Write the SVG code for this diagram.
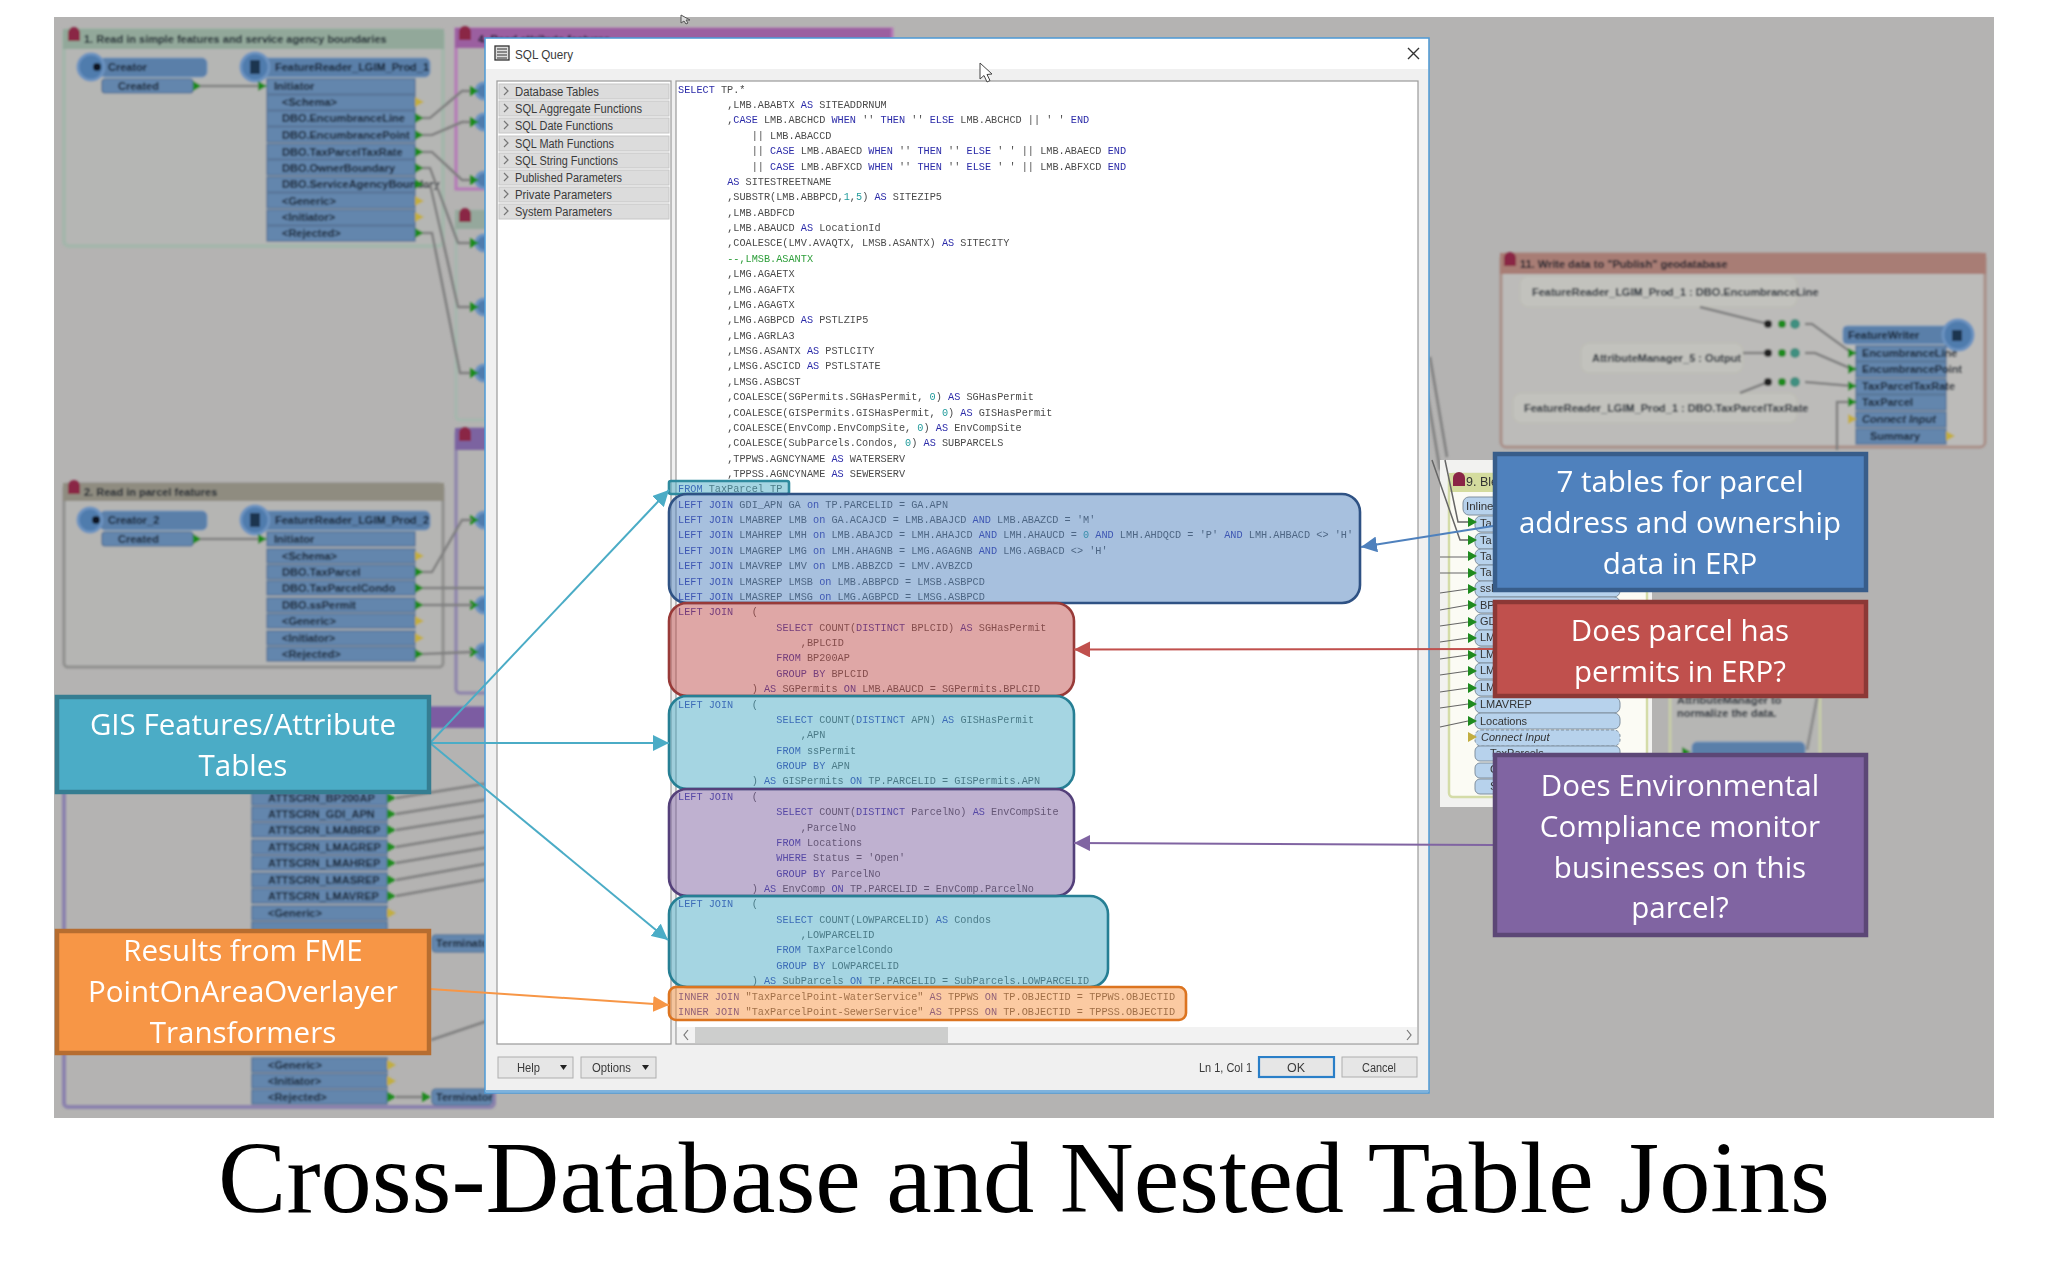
<svg xmlns="http://www.w3.org/2000/svg" width="2048" height="1280" viewBox="0 0 2048 1280">
<defs>
<filter id="blur" x="-5%" y="-5%" width="110%" height="110%"><feGaussianBlur stdDeviation="1.2"/></filter>
<filter id="soft" x="-2%" y="-2%" width="104%" height="104%"><feGaussianBlur stdDeviation="0.35"/></filter>
<polygon id="pg" points="0,-5 9,0 0,5" fill="#1f8a1f"/>
<polygon id="py" points="0,-5 9,0 0,5" fill="#c2ae40"/>
<path id="house" d="M0,8v-8a6,6 0 0 1 12,0v8z" fill="#8a2545"/>
<marker id="ah-teal" markerUnits="userSpaceOnUse" markerWidth="18" markerHeight="16" refX="16" refY="8" orient="auto"><path d="M0,0 L16,8 L0,16 Z" fill="#4BACC6"/></marker>
<marker id="ah-orange" markerUnits="userSpaceOnUse" markerWidth="18" markerHeight="16" refX="16" refY="8" orient="auto"><path d="M0,0 L16,8 L0,16 Z" fill="#F79646"/></marker>
<marker id="ah-blue" markerUnits="userSpaceOnUse" markerWidth="18" markerHeight="16" refX="16" refY="8" orient="auto"><path d="M0,0 L16,8 L0,16 Z" fill="#4F81BD"/></marker>
<marker id="ah-red" markerUnits="userSpaceOnUse" markerWidth="18" markerHeight="16" refX="16" refY="8" orient="auto"><path d="M0,0 L16,8 L0,16 Z" fill="#C0504D"/></marker>
<marker id="ah-purple" markerUnits="userSpaceOnUse" markerWidth="18" markerHeight="16" refX="16" refY="8" orient="auto"><path d="M0,0 L16,8 L0,16 Z" fill="#8064A2"/></marker>
</defs>
<style>
.bgt{font-family:"Liberation Sans",Arial,sans-serif;font-size:11px;font-weight:bold;fill:#0c1826}
.wire{fill:none;stroke:#7f7f7f;stroke-width:2.5}
.bar{fill:#5a7fa9;stroke:#6f93bb;stroke-width:1}
.port{fill:#6486ad;stroke:#4f6f94;stroke-width:1.2}
.circ{fill:#4f7bad;stroke:#6c93c0;stroke-width:3}
.ip{fill:#b7d2ec;stroke:#80909f;stroke-width:1}
.tun{fill:#c2c2bd;stroke:#bdbdb6;stroke-width:2}
.sql{font-family:"Liberation Mono","DejaVu Sans Mono",monospace;font-size:11.5px;fill:#4a4a4a}
.k{fill:#2a2aa8}.n{fill:#1f9a9a}.c{fill:#2e9e3a}
.ui{font-family:"Liberation Sans",Arial,sans-serif;font-size:12.5px;fill:#3a3a3a}
.item{fill:#dcdcdc;stroke:#c6c6c6;stroke-width:1}
.btn{fill:#e6e6e6;stroke:#aeaeae;stroke-width:1}
.chev{fill:none;stroke:#777;stroke-width:1.2}
.ov{stroke-width:2.6;fill-opacity:.5}
.cap{font-family:"Open Sans","Noto Sans",sans-serif;font-size:29.5px;fill:#fff;text-anchor:middle}
.box{stroke-width:4.5}
.lnk{fill:none;stroke-width:2}
</style>
<rect width="2048" height="1280" fill="#ffffff"/>
<rect id="backdrop" x="54" y="17" width="1940" height="1101" fill="#b4b3b2"/>
<g id="background" filter="url(#blur)">
<g id="bookmark1"><rect x="64" y="30" width="379" height="216" rx="5" fill="#b5b6b4" stroke="#a4b6ab" stroke-width="4"/><rect x="63" y="29" width="381" height="20" fill="#92a89a"/><use href="#house" x="68" y="33"/><text class="bgt" x="84" y="43">1. Read in simple features and service agency boundaries</text></g>
<g id="creator1"><rect class="bar" x="100" y="58" width="107" height="19" rx="5"/><circle class="circ" cx="91" cy="67" r="13"/><circle cx="97" cy="67" r="4" fill="#0d1520"/><rect class="port" x="102" y="79" width="91" height="14" rx="3"/><text class="bgt" x="108" y="71">Creator</text><text class="bgt" x="118" y="90">Created</text><use href="#pg" x="193" y="86"/></g>
<path class="wire" d="M200,86H262" stroke-width="4"/>
<g id="reader1"><rect class="bar" x="250" y="58" width="180" height="19" rx="5"/><circle class="circ" cx="255" cy="67" r="14"/><rect x="250" y="60" width="10" height="14" fill="#1d3550"/><text class="bgt" x="275" y="71">FeatureReader_LGIM_Prod_1</text>
<rect class="port" x="267" y="79" width="148" height="15"/><rect class="port" x="267" y="95" width="148" height="15"/><rect class="port" x="267" y="111" width="148" height="15"/><rect class="port" x="267" y="127" width="148" height="15"/><rect class="port" x="267" y="144" width="148" height="15"/><rect class="port" x="267" y="160" width="148" height="15"/><rect class="port" x="267" y="177" width="148" height="15"/><rect class="port" x="267" y="193" width="148" height="15"/><rect class="port" x="267" y="210" width="148" height="15"/><rect class="port" x="267" y="226" width="148" height="15"/>
<text class="bgt" x="274" y="90">Initiator</text><text class="bgt" x="282" y="106">&lt;Schema&gt;</text><text class="bgt" x="282" y="122">DBO.EncumbranceLine</text><text class="bgt" x="282" y="139">DBO.EncumbrancePoint</text><text class="bgt" x="282" y="156">DBO.TaxParcelTaxRate</text><text class="bgt" x="282" y="172">DBO.OwnerBoundary</text><text class="bgt" x="282" y="188">DBO.ServiceAgencyBoundary</text><text class="bgt" x="282" y="205">&lt;Generic&gt;</text><text class="bgt" x="282" y="221">&lt;Initiator&gt;</text><text class="bgt" x="282" y="237">&lt;Rejected&gt;</text>
<use href="#pg" x="258" y="86"/><use href="#py" x="415" y="102"/><use href="#pg" x="415" y="118"/><use href="#pg" x="415" y="135"/><use href="#pg" x="415" y="152"/><use href="#pg" x="415" y="168"/><use href="#pg" x="415" y="184"/><use href="#py" x="415" y="201"/><use href="#py" x="415" y="217"/><use href="#pg" x="415" y="233"/></g>
<g id="bookmark4"><rect x="456" y="29" width="436" height="160" fill="none" stroke="#b678b8" stroke-width="3"/><rect x="455" y="28" width="436" height="20" fill="#9b5fa0"/><use href="#house" x="459" y="32"/><text class="bgt" x="478" y="43">4. Read attribute features</text></g>
<g id="bookmark5"><rect x="456" y="211" width="60" height="209" rx="4" fill="none" stroke="#a5b8ad" stroke-width="3"/><rect x="455" y="210" width="60" height="19" fill="#95a89c"/><use href="#house" x="459" y="214"/></g>
<g id="bookmark6"><rect x="456" y="429" width="60" height="264" rx="4" fill="none" stroke="#8c82ab" stroke-width="3"/><rect x="455" y="428" width="60" height="22" fill="#7c64a0"/><use href="#house" x="459" y="433"/></g>
<path class="wire" d="M423,118H430L462,91H472M423,135H432L462,122H472M423,152H432L462,180H472M423,168H430L458,243H472M423,184H430L458,307H472M423,233H432L460,373H472"/>
<g id="inputs-upper"><circle class="circ" cx="484" cy="91" r="8"/><circle class="circ" cx="484" cy="122" r="8"/><circle class="circ" cx="484" cy="180" r="8"/><circle class="circ" cx="484" cy="243" r="8"/><circle class="circ" cx="484" cy="307" r="8"/><circle class="circ" cx="484" cy="373" r="8"/><circle class="circ" cx="484" cy="520" r="8"/><circle class="circ" cx="484" cy="605" r="8"/><circle class="circ" cx="484" cy="652" r="8"/><use href="#pg" x="470" y="91"/><use href="#pg" x="470" y="122"/><use href="#pg" x="470" y="180"/><use href="#pg" x="470" y="243"/><use href="#pg" x="470" y="307"/><use href="#pg" x="470" y="373"/><use href="#pg" x="470" y="520"/><use href="#pg" x="470" y="605"/><use href="#pg" x="470" y="652"/></g>
<g id="bookmark2"><rect x="64" y="484" width="379" height="183" rx="4" fill="#b5b5b3" stroke="#8f8f8d" stroke-width="3"/><rect x="63" y="483" width="381" height="18" fill="#8f8c80"/><use href="#house" x="68" y="486"/><text class="bgt" x="84" y="496">2. Read in parcel features</text></g>
<g id="creator2"><rect class="bar" x="100" y="511" width="107" height="19" rx="5"/><circle class="circ" cx="90" cy="520" r="12"/><circle cx="96" cy="520" r="4" fill="#0d1520"/><rect class="port" x="102" y="532" width="91" height="14" rx="3"/><text class="bgt" x="108" y="524">Creator_2</text><text class="bgt" x="118" y="543">Created</text><use href="#pg" x="193" y="539"/></g>
<path class="wire" d="M200,539H262"/>
<g id="reader2"><rect class="bar" x="250" y="511" width="180" height="19" rx="5"/><circle class="circ" cx="255" cy="520" r="14"/><rect x="250" y="513" width="10" height="14" fill="#1d3550"/><text class="bgt" x="275" y="524">FeatureReader_LGIM_Prod_2</text>
<rect class="port" x="267" y="532" width="148" height="14"/><rect class="port" x="267" y="549" width="148" height="14"/><rect class="port" x="267" y="565" width="148" height="14"/><rect class="port" x="267" y="581" width="148" height="14"/><rect class="port" x="267" y="598" width="148" height="14"/><rect class="port" x="267" y="614" width="148" height="14"/><rect class="port" x="267" y="631" width="148" height="14"/><rect class="port" x="267" y="647" width="148" height="14"/>
<text class="bgt" x="274" y="543">Initiator</text><text class="bgt" x="282" y="560">&lt;Schema&gt;</text><text class="bgt" x="282" y="576">DBO.TaxParcel</text><text class="bgt" x="282" y="592">DBO.TaxParcelCondo</text><text class="bgt" x="282" y="609">DBO.ssPermit</text><text class="bgt" x="282" y="625">&lt;Generic&gt;</text><text class="bgt" x="282" y="642">&lt;Initiator&gt;</text><text class="bgt" x="282" y="658">&lt;Rejected&gt;</text>
<use href="#pg" x="258" y="539"/><use href="#py" x="415" y="556"/><use href="#pg" x="415" y="572"/><use href="#pg" x="415" y="588"/><use href="#pg" x="415" y="605"/><use href="#py" x="415" y="621"/><use href="#py" x="415" y="638"/><use href="#pg" x="415" y="654"/></g>
<path class="wire" d="M423,572H432L462,520H472M423,588H490M423,605H472M423,654L472,652"/>
<g id="bookmark3"><rect x="64" y="708" width="430" height="399" rx="4" fill="none" stroke="#8b82ad" stroke-width="4"/><rect x="63" y="707" width="430" height="21" fill="#7c5ca2"/></g>
<g id="overlayer"><rect class="port" x="252" y="791" width="135" height="14"/><rect class="port" x="252" y="807" width="135" height="14"/><rect class="port" x="252" y="823" width="135" height="14"/><rect class="port" x="252" y="840" width="135" height="14"/><rect class="port" x="252" y="856" width="135" height="14"/><rect class="port" x="252" y="873" width="135" height="14"/><rect class="port" x="252" y="889" width="135" height="14"/><rect class="port" x="252" y="906" width="135" height="14"/><rect class="port" x="252" y="922" width="135" height="14"/><rect class="port" x="252" y="1058" width="135" height="14"/><rect class="port" x="252" y="1074" width="135" height="14"/><rect class="port" x="252" y="1090" width="135" height="14"/>
<text class="bgt" x="268" y="802">ATTSCRN_BP200AP</text><text class="bgt" x="268" y="818">ATTSCRN_GDI_APN</text><text class="bgt" x="268" y="834">ATTSCRN_LMABREP</text><text class="bgt" x="268" y="851">ATTSCRN_LMAGREP</text><text class="bgt" x="268" y="867">ATTSCRN_LMAHREP</text><text class="bgt" x="268" y="884">ATTSCRN_LMASREP</text><text class="bgt" x="268" y="900">ATTSCRN_LMAVREP</text><text class="bgt" x="268" y="917">&lt;Generic&gt;</text><text class="bgt" x="268" y="1069">&lt;Generic&gt;</text><text class="bgt" x="268" y="1085">&lt;Initiator&gt;</text><text class="bgt" x="268" y="1101">&lt;Rejected&gt;</text>
<use href="#pg" x="387" y="798"/><use href="#pg" x="387" y="814"/><use href="#pg" x="387" y="830"/><use href="#pg" x="387" y="847"/><use href="#pg" x="387" y="863"/><use href="#pg" x="387" y="880"/><use href="#pg" x="387" y="896"/><use href="#py" x="387" y="913"/><use href="#py" x="387" y="1065"/><use href="#py" x="387" y="1081"/><use href="#pg" x="387" y="1097"/></g>
<path class="wire" d="M396,798L490,783M396,814L490,799M396,830L490,815M396,847L490,831M396,863L490,847M396,880L490,863M396,896L490,879M431,1040L490,1020M396,1097H422"/>
<g id="terminators"><rect class="port" x="432" y="935" width="60" height="17" rx="4"/><text class="bgt" x="436" y="947">Terminator</text><rect class="port" x="432" y="1089" width="60" height="16" rx="4"/><text class="bgt" x="436" y="1101">Terminator</text><use href="#pg" x="422" y="1097"/></g>
<g id="bookmark11"><rect x="1501" y="254" width="484" height="193" rx="5" fill="#bcbbb9" stroke="#a98f88" stroke-width="3"/><rect x="1500" y="253" width="486" height="21" fill="#a87d74"/><use href="#house" x="1504" y="258"/><text class="bgt" x="1520" y="268">11. Write data to "Publish" geodatabase</text>
<rect class="tun" x="1520" y="276" width="277" height="31" rx="8"/><text class="bgt" x="1532" y="296" font-size="10.500">FeatureReader_LGIM_Prod_1 : DBO.EncumbranceLine</text>
<rect class="tun" x="1581" y="343" width="162" height="30" rx="8"/><text class="bgt" x="1592" y="362">AttributeManager_5 : Output</text>
<rect class="tun" x="1513" y="393" width="284" height="30" rx="8"/><text class="bgt" x="1524" y="412" font-size="10.500">FeatureReader_LGIM_Prod_1 : DBO.TaxParcelTaxRate</text>
<path class="wire" d="M1700,307L1768,324M1743,353H1768M1740,393L1768,382M1805,324H1812L1852,353M1805,353H1815L1852,369M1805,382L1852,386M1837,450V402H1852"/>
<circle cx="1768" cy="324" r="4" fill="#222"/><circle cx="1768" cy="353" r="4" fill="#222"/><circle cx="1768" cy="382" r="4" fill="#222"/><circle cx="1782" cy="324" r="4" fill="#1f8a1f"/><circle cx="1782" cy="353" r="4" fill="#1f8a1f"/><circle cx="1782" cy="382" r="4" fill="#1f8a1f"/><circle cx="1795" cy="324" r="5" fill="#3f8f80"/><circle cx="1795" cy="353" r="5" fill="#3f8f80"/><circle cx="1795" cy="382" r="5" fill="#3f8f80"/>
<rect class="bar" x="1843" y="326" width="125" height="18" rx="4"/><circle class="circ" cx="1958" cy="335" r="15"/><rect x="1952" y="330" width="10" height="11" fill="#1d3550"/><text class="bgt" x="1848" y="339">FeatureWriter</text>
<rect class="port" x="1856" y="346" width="90" height="15"/><rect class="port" x="1856" y="362" width="90" height="15"/><rect class="port" x="1856" y="379" width="90" height="15"/><rect class="port" x="1856" y="395" width="90" height="15"/><rect class="port" x="1856" y="412" width="90" height="15"/><rect class="port" x="1856" y="429" width="90" height="15"/>
<text class="bgt" x="1862" y="357" font-size="10">EncumbranceLine</text><text class="bgt" x="1862" y="373" font-size="10">EncumbrancePoint</text><text class="bgt" x="1862" y="390" font-size="10">TaxParcelTaxRate</text><text class="bgt" x="1862" y="406" font-size="10">TaxParcel</text><text class="bgt" x="1862" y="423" font-size="10" font-style="italic">Connect Input</text><text class="bgt" x="1870" y="440" font-size="10">Summary</text>
<use href="#pg" x="1848" y="353"/><use href="#pg" x="1848" y="369"/><use href="#pg" x="1848" y="386"/><use href="#pg" x="1848" y="402"/><use href="#py" x="1848" y="419"/><use href="#py" x="1946" y="436"/></g>
<path class="wire" d="M1430,357L1447,457M1425,380L1440,470"/>
</g>
<g id="bookmark9-panel">
<rect x="1440" y="460" width="212" height="347" fill="#f2f2f0" filter="url(#soft)"/>
<rect x="1449" y="474" width="198" height="323" rx="4" fill="#fbfbf4" stroke="#d4dca8" stroke-width="2.5"/>
<rect x="1449" y="473" width="198" height="19" fill="#d4dc9e"/>
<use href="#house" x="1453" y="478"/>
<text x="1466" y="486" font-family="Liberation Sans,Arial,sans-serif" font-size="12.500" fill="#333">9. Blend</text>
<rect class="ip" x="1463" y="497" width="157" height="18" rx="6"/><text x="1466" y="510" font-family="Liberation Sans,Arial,sans-serif" font-size="11.500" fill="#333">Inline</text>
<g id="bookmark9-rows" font-family="Liberation Sans,Arial,sans-serif" font-size="11" fill="#333">
<rect class="ip" x="1475" y="516" width="145" height="16" rx="6"/><rect class="ip" x="1475" y="533" width="145" height="16" rx="6"/><rect class="ip" x="1475" y="549" width="145" height="16" rx="6"/><rect class="ip" x="1475" y="565" width="145" height="16" rx="6"/><rect class="ip" x="1475" y="581" width="145" height="16" rx="6"/><rect class="ip" x="1475" y="597" width="145" height="16" rx="6"/><rect class="ip" x="1475" y="614" width="145" height="16" rx="6"/><rect class="ip" x="1475" y="630" width="145" height="16" rx="6"/><rect class="ip" x="1475" y="647" width="145" height="16" rx="6"/><rect class="ip" x="1475" y="663" width="145" height="16" rx="6"/><rect class="ip" x="1475" y="680" width="145" height="16" rx="6"/><rect class="ip" x="1475" y="697" width="145" height="16" rx="6"/><rect class="ip" x="1475" y="713" width="145" height="16" rx="6"/>
<rect class="ip" x="1475" y="730" width="145" height="16" rx="6" stroke-dasharray="3 2"/><rect class="ip" x="1475" y="746" width="145" height="15" rx="5"/><rect class="ip" x="1475" y="763" width="145" height="15" rx="5"/><rect class="ip" x="1475" y="779" width="145" height="15" rx="5"/>
<text x="1480" y="527">Ta</text><text x="1480" y="544">Ta</text><text x="1480" y="560">Ta</text><text x="1480" y="576">Ta</text><text x="1480" y="592">ssPermit</text><text x="1480" y="609">BP</text><text x="1480" y="625">GD</text><text x="1480" y="641">LM</text><text x="1480" y="658">LM</text><text x="1480" y="674">LM</text><text x="1480" y="691">LM</text><text x="1480" y="708">LMAVREP</text><text x="1480" y="725">Locations</text><text x="1481" y="741" font-style="italic">Connect Input</text><text x="1490" y="757">TaxParcels</text><text x="1490" y="773">G</text><text x="1490" y="790">S</text>
</g>
<use href="#pg" x="1468" y="522"/><use href="#pg" x="1468" y="540"/><use href="#pg" x="1468" y="556"/><use href="#pg" x="1468" y="573"/><use href="#pg" x="1468" y="589"/><use href="#pg" x="1468" y="605"/><use href="#pg" x="1468" y="622"/><use href="#pg" x="1468" y="638"/><use href="#pg" x="1468" y="655"/><use href="#pg" x="1468" y="671"/><use href="#pg" x="1468" y="688"/><use href="#pg" x="1468" y="704"/><use href="#pg" x="1468" y="721"/><use href="#py" x="1468" y="737"/>
<path d="M1440,557H1468M1440,573H1468M1440,593L1468,589M1440,610L1468,605M1440,626L1468,622M1440,642L1468,638M1440,659L1468,655M1440,675L1468,671M1440,692L1468,688M1440,708L1468,704M1440,727L1468,721" fill="none" stroke="#666" stroke-width="1.2"/>
<path d="M1445,460L1458,522H1468M1432,460L1460,540H1468" fill="none" stroke="#666" stroke-width="1.5"/>
</g>
<g id="note" filter="url(#blur)"><rect x="1670" y="690" width="150" height="75" fill="#b6b6b4" stroke="#c8cda8" stroke-width="3"/><text class="bgt" x="1677" y="704">AttributeManager to</text><text class="bgt" x="1677" y="717">normalize the data.</text><rect class="bar" x="1692" y="742" width="113" height="20" rx="5"/><path d="M1817,698L1807,750" stroke="#8d8d8d" stroke-width="3" fill="none"/><use href="#pg" x="1682" y="752"/></g>
<g id="cursor-top"><path d="M681,15L681,23L684,21L686,24L688,23L686,20L690,20Z" fill="#dddddd" stroke="#555" stroke-width="1"/></g>
<g id="dialog">
<rect x="485" y="38" width="944" height="1055" fill="#f0f0f0" stroke="#4e9ad6" stroke-width="1.500"/>
<rect x="486" y="39" width="942" height="30" fill="#ffffff"/>
<rect x="486" y="1090" width="942" height="2" fill="#7fb2dc"/>
<g id="dialog-title"><rect x="495" y="46" width="14" height="14" fill="#dddddd" stroke="#333" stroke-width="1.300"/><path d="M497,49H507M497,52H507M497,55H507M497,58H507" stroke="#333" stroke-width="1"/><text class="ui" x="515" y="58.500" font-size="13.500" textLength="58" lengthAdjust="spacingAndGlyphs">SQL Query</text><path d="M1408,48L1419,59M1419,48L1408,59" stroke="#333" stroke-width="1.400"/></g>
<g id="side-panel"><rect x="497" y="81" width="174" height="963" fill="#ffffff" stroke="#9a9a9a" stroke-width="1.200"/>
<rect class="item" x="499" y="84" width="170" height="15"/><rect class="item" x="499" y="101" width="170" height="15"/><rect class="item" x="499" y="118" width="170" height="15"/><rect class="item" x="499" y="136" width="170" height="15"/><rect class="item" x="499" y="153" width="170" height="15"/><rect class="item" x="499" y="170" width="170" height="15"/><rect class="item" x="499" y="187" width="170" height="15"/><rect class="item" x="499" y="204" width="170" height="15"/>
<path class="chev" d="M504,87l4,4l-4,4M504,104l4,4l-4,4M504,121l4,4l-4,4M504,139l4,4l-4,4M504,156l4,4l-4,4M504,173l4,4l-4,4M504,190l4,4l-4,4M504,207l4,4l-4,4"/>
<text class="ui" x="515" y="96" textLength="84" lengthAdjust="spacingAndGlyphs">Database Tables</text><text class="ui" x="515" y="113" textLength="127" lengthAdjust="spacingAndGlyphs">SQL Aggregate Functions</text><text class="ui" x="515" y="130" textLength="98" lengthAdjust="spacingAndGlyphs">SQL Date Functions</text><text class="ui" x="515" y="148" textLength="99" lengthAdjust="spacingAndGlyphs">SQL Math Functions</text><text class="ui" x="515" y="165" textLength="103" lengthAdjust="spacingAndGlyphs">SQL String Functions</text><text class="ui" x="515" y="182" textLength="107" lengthAdjust="spacingAndGlyphs">Published Parameters</text><text class="ui" x="515" y="199" textLength="97" lengthAdjust="spacingAndGlyphs">Private Parameters</text><text class="ui" x="515" y="216" textLength="97" lengthAdjust="spacingAndGlyphs">System Parameters</text></g>
<rect x="676" y="81" width="742" height="963" fill="#ffffff" stroke="#9a9a9a" stroke-width="1.200"/>
<g id="scrollbar"><rect x="677" y="1027" width="740" height="16" fill="#f2f2f2"/><rect x="695" y="1027" width="253" height="16" fill="#cdcecd"/><path class="chev" d="M688,1030l-4,5l4,5M1407,1030l4,5l-4,5" stroke="#333" stroke-width="1.600"/></g>
<g id="sql-text" filter="url(#soft)"><g transform="translate(678,0) scale(0.89,1)">
<text class="sql" y="92.800"><tspan class="k">SELECT</tspan> TP.*</text>
<text class="sql" x="55.200" y="108.200">,LMB.ABABTX <tspan class="k">AS</tspan> SITEADDRNUM</text>
<text class="sql" x="55.200" y="123.500">,<tspan class="k">CASE</tspan> LMB.ABCHCD <tspan class="k">WHEN</tspan> '' <tspan class="k">THEN</tspan> '' <tspan class="k">ELSE</tspan> LMB.ABCHCD || ' ' <tspan class="k">END</tspan></text>
<text class="sql" x="82.800" y="138.900">|| LMB.ABACCD</text>
<text class="sql" x="82.800" y="154.300">|| <tspan class="k">CASE</tspan> LMB.ABAECD <tspan class="k">WHEN</tspan> '' <tspan class="k">THEN</tspan> '' <tspan class="k">ELSE</tspan> ' ' || LMB.ABAECD <tspan class="k">END</tspan></text>
<text class="sql" x="82.800" y="169.600">|| <tspan class="k">CASE</tspan> LMB.ABFXCD <tspan class="k">WHEN</tspan> '' <tspan class="k">THEN</tspan> '' <tspan class="k">ELSE</tspan> ' ' || LMB.ABFXCD <tspan class="k">END</tspan></text>
<text class="sql" x="55.200" y="185"><tspan class="k">AS</tspan> SITESTREETNAME</text>
<text class="sql" x="55.200" y="200.400">,SUBSTR(LMB.ABBPCD,<tspan class="n">1</tspan>,<tspan class="n">5</tspan>) <tspan class="k">AS</tspan> SITEZIP5</text>
<text class="sql" x="55.200" y="215.800">,LMB.ABDFCD</text>
<text class="sql" x="55.200" y="231.100">,LMB.ABAUCD <tspan class="k">AS</tspan> LocationId</text>
<text class="sql" x="55.200" y="246.500">,COALESCE(LMV.AVAQTX, LMSB.ASANTX) <tspan class="k">AS</tspan> SITECITY</text>
<text class="sql c" x="55.200" y="261.900">--,LMSB.ASANTX</text>
<text class="sql" x="55.200" y="277.200">,LMG.AGAETX</text>
<text class="sql" x="55.200" y="292.600">,LMG.AGAFTX</text>
<text class="sql" x="55.200" y="308">,LMG.AGAGTX</text>
<text class="sql" x="55.200" y="323.400">,LMG.AGBPCD <tspan class="k">AS</tspan> PSTLZIP5</text>
<text class="sql" x="55.200" y="338.700">,LMG.AGRLA3</text>
<text class="sql" x="55.200" y="354.100">,LMSG.ASANTX <tspan class="k">AS</tspan> PSTLCITY</text>
<text class="sql" x="55.200" y="369.500">,LMSG.ASCICD <tspan class="k">AS</tspan> PSTLSTATE</text>
<text class="sql" x="55.200" y="384.800">,LMSG.ASBCST</text>
<text class="sql" x="55.200" y="400.200">,COALESCE(SGPermits.SGHasPermit, <tspan class="n">0</tspan>) <tspan class="k">AS</tspan> SGHasPermit</text>
<text class="sql" x="55.200" y="415.600">,COALESCE(GISPermits.GISHasPermit, <tspan class="n">0</tspan>) <tspan class="k">AS</tspan> GISHasPermit</text>
<text class="sql" x="55.200" y="430.900">,COALESCE(EnvComp.EnvCompSite, <tspan class="n">0</tspan>) <tspan class="k">AS</tspan> EnvCompSite</text>
<text class="sql" x="55.200" y="446.300">,COALESCE(SubParcels.Condos, <tspan class="n">0</tspan>) <tspan class="k">AS</tspan> SUBPARCELS</text>
<text class="sql" x="55.200" y="461.700">,TPPWS.AGNCYNAME <tspan class="k">AS</tspan> WATERSERV</text>
<text class="sql" x="55.200" y="477.100">,TPPSS.AGNCYNAME <tspan class="k">AS</tspan> SEWERSERV</text>
<text class="sql" y="492.400"><tspan class="k">FROM</tspan> TaxParcel TP</text>
<text class="sql" y="507.800"><tspan class="k">LEFT JOIN</tspan> GDI_APN GA <tspan class="k">on</tspan> TP.PARCELID = GA.APN</text>
<text class="sql" y="523.200"><tspan class="k">LEFT JOIN</tspan> LMABREP LMB <tspan class="k">on</tspan> GA.ACAJCD = LMB.ABAJCD <tspan class="k">AND</tspan> LMB.ABAZCD = 'M'</text>
<text class="sql" y="538.500"><tspan class="k">LEFT JOIN</tspan> LMAHREP LMH <tspan class="k">on</tspan> LMB.ABAJCD = LMH.AHAJCD <tspan class="k">AND</tspan> LMH.AHAUCD = <tspan class="n">0</tspan> <tspan class="k">AND</tspan> LMH.AHDQCD = 'P' <tspan class="k">AND</tspan> LMH.AHBACD &lt;&gt; 'H'</text>
<text class="sql" y="553.900"><tspan class="k">LEFT JOIN</tspan> LMAGREP LMG <tspan class="k">on</tspan> LMH.AHAGNB = LMG.AGAGNB <tspan class="k">AND</tspan> LMG.AGBACD &lt;&gt; 'H'</text>
<text class="sql" y="569.300"><tspan class="k">LEFT JOIN</tspan> LMAVREP LMV <tspan class="k">on</tspan> LMB.ABBZCD = LMV.AVBZCD</text>
<text class="sql" y="584.600"><tspan class="k">LEFT JOIN</tspan> LMASREP LMSB <tspan class="k">on</tspan> LMB.ABBPCD = LMSB.ASBPCD</text>
<text class="sql" y="600"><tspan class="k">LEFT JOIN</tspan> LMASREP LMSG <tspan class="k">on</tspan> LMG.AGBPCD = LMSG.ASBPCD</text>
<text class="sql" y="615.400"><tspan class="k">LEFT JOIN</tspan></text><text class="sql" x="82.800" y="615.400">(</text>
<text class="sql" x="110.400" y="630.800"><tspan class="k">SELECT</tspan> COUNT(<tspan class="k">DISTINCT</tspan> BPLCID) <tspan class="k">AS</tspan> SGHasPermit</text>
<text class="sql" x="138" y="646.100">,BPLCID</text>
<text class="sql" x="110.400" y="661.500"><tspan class="k">FROM</tspan> BP200AP</text>
<text class="sql" x="110.400" y="676.900"><tspan class="k">GROUP BY</tspan> BPLCID</text>
<text class="sql" x="82.800" y="692.200">) <tspan class="k">AS</tspan> SGPermits <tspan class="k">ON</tspan> LMB.ABAUCD = SGPermits.BPLCID</text>
<text class="sql" y="707.600"><tspan class="k">LEFT JOIN</tspan></text><text class="sql" x="82.800" y="707.600">(</text>
<text class="sql" x="110.400" y="723"><tspan class="k">SELECT</tspan> COUNT(<tspan class="k">DISTINCT</tspan> APN) <tspan class="k">AS</tspan> GISHasPermit</text>
<text class="sql" x="138" y="738.300">,APN</text>
<text class="sql" x="110.400" y="753.700"><tspan class="k">FROM</tspan> ssPermit</text>
<text class="sql" x="110.400" y="769.100"><tspan class="k">GROUP BY</tspan> APN</text>
<text class="sql" x="82.800" y="784.500">) <tspan class="k">AS</tspan> GISPermits <tspan class="k">ON</tspan> TP.PARCELID = GISPermits.APN</text>
<text class="sql" y="799.800"><tspan class="k">LEFT JOIN</tspan></text><text class="sql" x="82.800" y="799.800">(</text>
<text class="sql" x="110.400" y="815.200"><tspan class="k">SELECT</tspan> COUNT(<tspan class="k">DISTINCT</tspan> ParcelNo) <tspan class="k">AS</tspan> EnvCompSite</text>
<text class="sql" x="138" y="830.600">,ParcelNo</text>
<text class="sql" x="110.400" y="845.900"><tspan class="k">FROM</tspan> Locations</text>
<text class="sql" x="110.400" y="861.300"><tspan class="k">WHERE</tspan> Status = 'Open'</text>
<text class="sql" x="110.400" y="876.700"><tspan class="k">GROUP BY</tspan> ParcelNo</text>
<text class="sql" x="82.800" y="892">) <tspan class="k">AS</tspan> EnvComp <tspan class="k">ON</tspan> TP.PARCELID = EnvComp.ParcelNo</text>
<text class="sql" y="907.400"><tspan class="k">LEFT JOIN</tspan></text><text class="sql" x="82.800" y="907.400">(</text>
<text class="sql" x="110.400" y="922.800"><tspan class="k">SELECT</tspan> COUNT(LOWPARCELID) <tspan class="k">AS</tspan> Condos</text>
<text class="sql" x="138" y="938.200">,LOWPARCELID</text>
<text class="sql" x="110.400" y="953.500"><tspan class="k">FROM</tspan> TaxParcelCondo</text>
<text class="sql" x="110.400" y="968.900"><tspan class="k">GROUP BY</tspan> LOWPARCELID</text>
<text class="sql" x="82.800" y="984.300">) <tspan class="k">AS</tspan> SubParcels <tspan class="k">ON</tspan> TP.PARCELID = SubParcels.LOWPARCELID</text>
<text class="sql" y="999.600"><tspan class="k">INNER JOIN</tspan> "TaxParcelPoint-WaterService" <tspan class="k">AS</tspan> TPPWS <tspan class="k">ON</tspan> TP.OBJECTID = TPPWS.OBJECTID</text>
<text class="sql" y="1015"><tspan class="k">INNER JOIN</tspan> "TaxParcelPoint-SewerService" <tspan class="k">AS</tspan> TPPSS <tspan class="k">ON</tspan> TP.OBJECTID = TPPSS.OBJECTID</text>
</g></g>
<g id="highlights">
<rect id="hl-from" class="ov" x="669" y="481" width="120" height="13" rx="2" fill="#4BACC6" stroke="#2f8a9e"/>
<rect id="hl-tables" class="ov" x="669" y="494" width="691" height="109" rx="18" fill="#4F81BD" stroke="#2f5284"/>
<rect id="hl-permits" class="ov" x="669" y="603" width="405" height="93" rx="18" fill="#C0504D" stroke="#983a38"/>
<rect id="hl-gis" class="ov" x="669" y="696" width="405" height="93" rx="18" fill="#4BACC6" stroke="#267f94"/>
<rect id="hl-env" class="ov" x="669" y="789" width="405" height="107" rx="18" fill="#8064A2" stroke="#54407a"/>
<rect id="hl-condos" class="ov" x="669" y="896" width="439" height="91" rx="18" fill="#4BACC6" stroke="#267f94"/>
<rect id="hl-inner" class="ov" x="669" y="987" width="517" height="33" rx="7" fill="#F79646" stroke="#dc7420"/>
</g>
<g id="dialog-buttons" filter="url(#soft)">
<rect class="btn" x="498" y="1057" width="75" height="21"/><text class="ui" x="517" y="1072" textLength="23" lengthAdjust="spacingAndGlyphs">Help</text><path d="M560,1065h7l-3.500,5z" fill="#222"/>
<rect class="btn" x="581" y="1057" width="75" height="21"/><text class="ui" x="592" y="1072" textLength="39" lengthAdjust="spacingAndGlyphs">Options</text><path d="M642,1065h7l-3.500,5z" fill="#222"/>
<text class="ui" x="1199" y="1072" textLength="53" lengthAdjust="spacingAndGlyphs">Ln 1, Col 1</text>
<rect x="1259" y="1057" width="75" height="20" fill="#e6e6e6" stroke="#2a7fc8" stroke-width="2.200"/><text class="ui" x="1296" y="1072" text-anchor="middle">OK</text>
<rect class="btn" x="1342" y="1057" width="75" height="20"/><text class="ui" x="1379" y="1072" text-anchor="middle" textLength="34" lengthAdjust="spacingAndGlyphs">Cancel</text>
</g>
<g id="cursor"><path d="M980,63L980,79L984,75.500L987,82L990,80.500L987,74.500L992,74Z" fill="#ffffff" stroke="#444" stroke-width="1"/></g>
</g>
<g id="connectors">
<path class="lnk" stroke="#4BACC6" marker-end="url(#ah-teal)" d="M430,743L669,490"/>
<path class="lnk" stroke="#4BACC6" marker-end="url(#ah-teal)" d="M430,743H669"/>
<path class="lnk" stroke="#4BACC6" marker-end="url(#ah-teal)" d="M430,743L668,940"/>
<path class="lnk" stroke="#F79646" marker-end="url(#ah-orange)" d="M430,989L669,1005"/>
<path class="lnk" stroke="#4F81BD" marker-end="url(#ah-blue)" d="M1493,526L1361,547"/>
<path class="lnk" stroke="#C0504D" marker-end="url(#ah-red)" d="M1493,649L1074,649.500"/>
<path class="lnk" stroke="#8064A2" marker-end="url(#ah-purple)" d="M1493,845L1074,843"/>
</g>
<g id="callout-gis"><rect class="box" x="57" y="697" width="372" height="95" fill="#4BACC6" stroke="#357d91"/><text class="cap" x="243" y="735">GIS Features/Attribute</text><text class="cap" x="243" y="776">Tables</text></g>
<g id="callout-fme"><rect class="box" x="57" y="931" width="372" height="122" fill="#F79646" stroke="#b66d30"/><text class="cap" x="243" y="961">Results from FME</text><text class="cap" x="243" y="1002">PointOnAreaOverlayer</text><text class="cap" x="243" y="1043">Transformers</text></g>
<g id="callout-tables"><rect class="box" x="1495" y="454" width="371" height="136" fill="#4F81BD" stroke="#385d8a"/><text class="cap" x="1680" y="492">7 tables for parcel</text><text class="cap" x="1680" y="533">address and ownership</text><text class="cap" x="1680" y="574">data in ERP</text></g>
<g id="callout-permits"><rect class="box" x="1495" y="602" width="371" height="94" fill="#C0504D" stroke="#8c3836"/><text class="cap" x="1680" y="641">Does parcel has</text><text class="cap" x="1680" y="682">permits in ERP?</text></g>
<g id="callout-env"><rect class="box" x="1495" y="755" width="371" height="180" fill="#8064A2" stroke="#5c4776"/><text class="cap" x="1680" y="796">Does Environmental</text><text class="cap" x="1680" y="837">Compliance monitor</text><text class="cap" x="1680" y="878">businesses on this</text><text class="cap" x="1680" y="918">parcel?</text></g>
<text id="title" x="1024" y="1212" font-family="Liberation Serif,Times New Roman,serif" font-size="102.400" fill="#000" text-anchor="middle">Cross-Database and Nested Table Joins</text>
</svg>
